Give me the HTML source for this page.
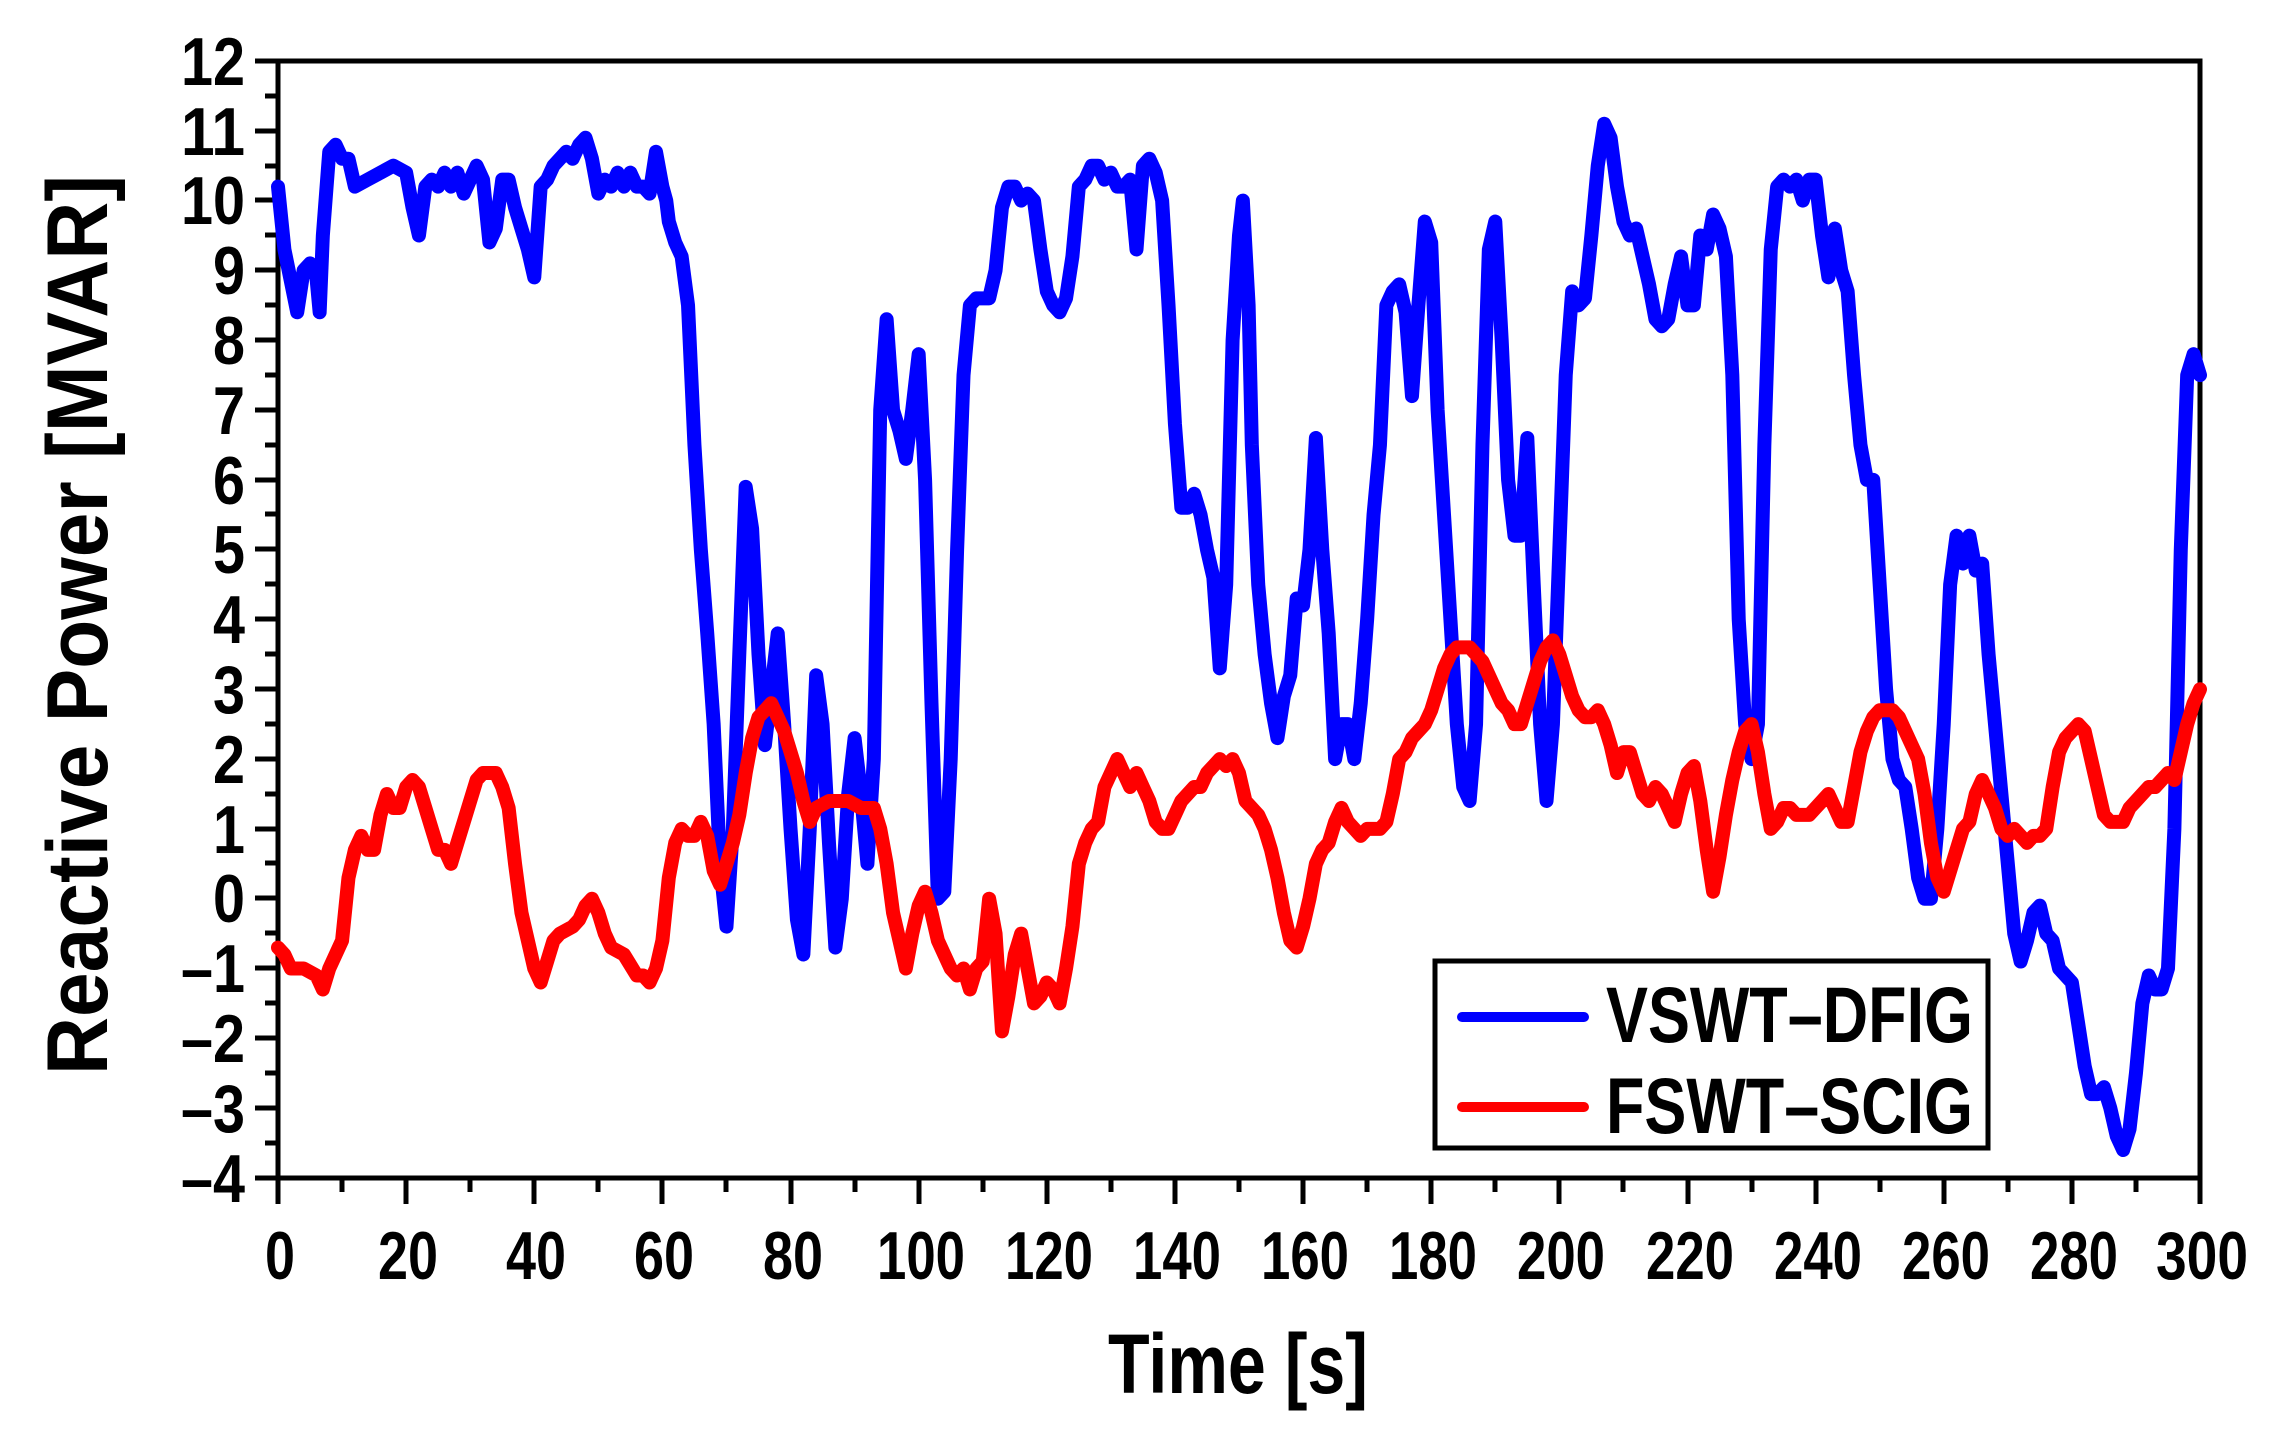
<!DOCTYPE html>
<html><head><meta charset="utf-8"><style>
html,body{margin:0;padding:0;background:#fff;}
svg{display:block;}
text{font-family:"Liberation Sans",Arial,sans-serif;font-weight:bold;fill:#000;}
</style></head><body>
<svg width="2270" height="1437" viewBox="0 0 2270 1437" xmlns="http://www.w3.org/2000/svg">
<rect width="2270" height="1437" fill="#fff"/>
<g stroke="#000" stroke-width="5" fill="none">
<rect x="278" y="61" width="1922" height="1117"/>
<path d="M255 61H278M255 131H278M255 200H278M255 270H278M255 340H278M255 410H278M255 480H278M255 549H278M255 619H278M255 689H278M255 759H278M255 829H278M255 898H278M255 968H278M255 1038H278M255 1108H278M255 1178H278"/>
<path d="M265 96H278M265 166H278M265 235H278M265 305H278M265 375H278M265 445H278M265 514H278M265 584H278M265 654H278M265 724H278M265 794H278M265 863H278M265 933H278M265 1003H278M265 1073H278M265 1143H278"/>
<path d="M278 1178V1204M406 1178V1204M534 1178V1204M662 1178V1204M791 1178V1204M919 1178V1204M1047 1178V1204M1175 1178V1204M1303 1178V1204M1431 1178V1204M1559 1178V1204M1688 1178V1204M1816 1178V1204M1944 1178V1204M2072 1178V1204M2200 1178V1204"/>
<path d="M342 1178V1192M470 1178V1192M598 1178V1192M726 1178V1192M855 1178V1192M983 1178V1192M1111 1178V1192M1239 1178V1192M1367 1178V1192M1495 1178V1192M1623 1178V1192M1752 1178V1192M1880 1178V1192M2008 1178V1192M2136 1178V1192"/>
</g>
<g font-size="68" text-anchor="end">
<text x="245" y="85" textLength="64" lengthAdjust="spacingAndGlyphs">12</text>
<text x="245" y="155" textLength="64" lengthAdjust="spacingAndGlyphs">11</text>
<text x="245" y="224" textLength="64" lengthAdjust="spacingAndGlyphs">10</text>
<text x="245" y="294" textLength="32" lengthAdjust="spacingAndGlyphs">9</text>
<text x="245" y="364" textLength="32" lengthAdjust="spacingAndGlyphs">8</text>
<text x="245" y="434" textLength="32" lengthAdjust="spacingAndGlyphs">7</text>
<text x="245" y="504" textLength="32" lengthAdjust="spacingAndGlyphs">6</text>
<text x="245" y="573" textLength="32" lengthAdjust="spacingAndGlyphs">5</text>
<text x="245" y="643" textLength="32" lengthAdjust="spacingAndGlyphs">4</text>
<text x="245" y="713" textLength="32" lengthAdjust="spacingAndGlyphs">3</text>
<text x="245" y="783" textLength="32" lengthAdjust="spacingAndGlyphs">2</text>
<text x="245" y="853" textLength="32" lengthAdjust="spacingAndGlyphs">1</text>
<text x="245" y="922" textLength="32" lengthAdjust="spacingAndGlyphs">0</text>
<text x="245" y="992" textLength="64" lengthAdjust="spacingAndGlyphs">–1</text>
<text x="245" y="1062" textLength="64" lengthAdjust="spacingAndGlyphs">–2</text>
<text x="245" y="1132" textLength="64" lengthAdjust="spacingAndGlyphs">–3</text>
<text x="245" y="1202" textLength="64" lengthAdjust="spacingAndGlyphs">–4</text>
</g>
<g font-size="68" text-anchor="middle">
<text x="280" y="1279" textLength="30" lengthAdjust="spacingAndGlyphs">0</text>
<text x="408" y="1279" textLength="60" lengthAdjust="spacingAndGlyphs">20</text>
<text x="536" y="1279" textLength="60" lengthAdjust="spacingAndGlyphs">40</text>
<text x="664" y="1279" textLength="60" lengthAdjust="spacingAndGlyphs">60</text>
<text x="793" y="1279" textLength="60" lengthAdjust="spacingAndGlyphs">80</text>
<text x="921" y="1279" textLength="88" lengthAdjust="spacingAndGlyphs">100</text>
<text x="1049" y="1279" textLength="88" lengthAdjust="spacingAndGlyphs">120</text>
<text x="1177" y="1279" textLength="88" lengthAdjust="spacingAndGlyphs">140</text>
<text x="1305" y="1279" textLength="88" lengthAdjust="spacingAndGlyphs">160</text>
<text x="1433" y="1279" textLength="88" lengthAdjust="spacingAndGlyphs">180</text>
<text x="1561" y="1279" textLength="88" lengthAdjust="spacingAndGlyphs">200</text>
<text x="1690" y="1279" textLength="88" lengthAdjust="spacingAndGlyphs">220</text>
<text x="1818" y="1279" textLength="88" lengthAdjust="spacingAndGlyphs">240</text>
<text x="1946" y="1279" textLength="88" lengthAdjust="spacingAndGlyphs">260</text>
<text x="2074" y="1279" textLength="88" lengthAdjust="spacingAndGlyphs">280</text>
<text x="2202" y="1279" textLength="92" lengthAdjust="spacingAndGlyphs">300</text>
</g>
<text x="1108" y="1393" font-size="84" textLength="260" lengthAdjust="spacingAndGlyphs">Time [s]</text>
<text transform="translate(107,1075) rotate(-90)" font-size="86" textLength="900" lengthAdjust="spacingAndGlyphs">Reactive Power [MVAR]</text>
<g fill="none" stroke-linejoin="round" stroke-linecap="round">
<g transform="matrix(6.4067 0 0 -69.81 278 898.7)">
<polyline vector-effect="non-scaling-stroke" stroke-width="14" stroke="#0000ff" points="0,10.2 1,9.3 3,8.4 4,9.0 5,9.1 6,8.9 6.5,8.4 7,9.5 8,10.7 9,10.8 10,10.6 11,10.6 12,10.2 14,10.3 16,10.4 18,10.5 20,10.4 21,9.9 22,9.5 23,10.2 24,10.3 25,10.2 26,10.4 27,10.2 28,10.4 29,10.1 30,10.3 31,10.5 32,10.3 33,9.4 34,9.6 35,10.3 36,10.3 37,9.9 38,9.6 39,9.3 40,8.9 41,10.2 42,10.3 43,10.5 44,10.6 45,10.7 46,10.6 47,10.8 48,10.9 49,10.6 50,10.1 51,10.3 52,10.2 53,10.4 54,10.2 55,10.4 56,10.2 57,10.2 58,10.1 59,10.7 60,10.2 60.6,10.0 61,9.7 62,9.4 63,9.2 64,8.5 65,6.5 66,5.0 67,3.8 68,2.5 69,0.5 70,-0.4 71,1.0 72,3.5 73,5.9 74,5.3 75,3.5 76,2.2 77,3.0 78,3.8 79,2.5 80,1.0 81,-0.3 82,-0.8 83,1.0 84,3.2 85,2.5 86,0.8 87,-0.7 88,0.0 89,1.5 90,2.3 91,1.5 92,0.5 93,2.0 94,7.0 95,8.3 96,7.0 97,6.7 98,6.3 99,7.0 100,7.8 101,6.0 102,2.8 103,0.0 104,0.1 105,2.0 106,5.0 107,7.5 108,8.5 109,8.6 111,8.6 112,9.0 113,9.9 114,10.2 115,10.2 116,10.0 117,10.1 118,10.0 119,9.3 120,8.7 121,8.5 122,8.4 123,8.6 124,9.2 125,10.2 126,10.3 127,10.5 128,10.5 129,10.3 130,10.4 131,10.2 132,10.2 133,10.3 134,9.3 135,10.5 136,10.6 137,10.4 138,10.0 139,8.5 140,6.8 141,5.6 142,5.6 143,5.8 144,5.5 145,5.0 146,4.6 147,3.3 148,4.5 149,8.0 150,9.5 150.6,10.0 151.5,8.5 152,6.5 153,4.5 154,3.5 155,2.8 156,2.3 157,2.9 158,3.2 159,4.3 160,4.2 161,5.0 162,6.6 163,5.0 164,3.8 165,2.0 166,2.5 167,2.5 168,2.0 169,2.8 170,4.0 171,5.5 172,6.5 173,8.5 174,8.7 175,8.8 176,8.4 177,7.2 178,8.5 179,9.7 180,9.4 181,7.0 182,5.5 183,4.0 184,2.5 185,1.6 186,1.4 187,2.5 188,6.5 189,9.3 190,9.7 191,8.0 192,6.0 193,5.2 194,5.2 195,6.6 196,4.5 197,2.5 198,1.4 199,2.5 200,5.0 201,7.5 202,8.7 203,8.5 204,8.6 205,9.5 206,10.5 207,11.1 208,10.9 209,10.2 210,9.7 211,9.5 212,9.6 213,9.2 214,8.8 215,8.3 216,8.2 217,8.3 218,8.8 219,9.2 220,8.5 221,8.5 222,9.5 223,9.3 224,9.8 225,9.6 226,9.2 227,7.5 228,4.0 229,2.5 230,2.0 231,2.5 232,6.5 233,9.3 234,10.2 235,10.3 236,10.2 237,10.3 238,10.0 239,10.3 240,10.3 241,9.5 242,8.9 243,9.6 244,9.0 245,8.7 246,7.5 247,6.5 248,6.0 249,6.0 250,4.5 251,3.0 252,2.0 253,1.7 254,1.6 255,1.0 256,0.3 257,0.0 258,0.0 259,1.0 260,2.5 261,4.5 262,5.2 263,4.8 264,5.2 265,4.7 266,4.8 267,3.5 268,2.5 269,1.5 270,0.5 271,-0.5 272,-0.9 273,-0.6 274,-0.2 275,-0.1 276,-0.5 277,-0.6 278,-1.0 279,-1.1 280,-1.2 281,-1.8 282,-2.4 283,-2.8 284,-2.8 285,-2.7 286,-3.0 287,-3.4 288,-3.6 289,-3.3 290,-2.5 291,-1.5 292,-1.1 293,-1.3 294,-1.3 295,-1.0 296,1.0 297,5.0 298,7.5 299,7.8 300,7.5"/>
<polyline vector-effect="non-scaling-stroke" stroke-width="14" stroke="#ff0000" points="0,-0.7 1,-0.8 2,-1.0 4,-1.0 6,-1.1 7,-1.3 8,-1.0 10,-0.6 11,0.3 12,0.7 13,0.9 14,0.7 15,0.7 16,1.2 17,1.5 18,1.3 19,1.3 20,1.6 21,1.7 22,1.6 23,1.3 24,1.0 25,0.7 26,0.7 27,0.5 28,0.8 29,1.1 30,1.4 31,1.7 32,1.8 34,1.8 35,1.6 36,1.3 37,0.5 38,-0.2 39,-0.6 40,-1.0 41,-1.2 42,-0.9 43,-0.6 44,-0.5 46,-0.4 47,-0.3 48,-0.1 49,0.0 50,-0.2 51,-0.5 52,-0.7 54,-0.8 56,-1.1 57,-1.1 58,-1.2 59,-1.0 60,-0.6 61,0.3 62,0.8 63,1.0 64,0.9 65,0.9 66,1.1 67,0.9 68,0.4 69,0.2 70,0.5 71,0.8 72,1.2 73,1.8 74,2.3 75,2.6 76,2.7 77,2.8 78,2.6 79,2.4 80,2.1 81,1.8 82,1.4 83,1.1 84,1.3 86,1.4 89,1.4 91,1.3 93,1.3 94,1.0 95,0.5 96,-0.2 97,-0.6 98,-1.0 99,-0.5 100,-0.1 101,0.1 102,-0.2 103,-0.6 104,-0.8 105,-1.0 106,-1.1 107,-1.0 108,-1.3 109,-1.0 110,-0.9 111,0.0 112,-0.5 113,-1.9 114,-1.4 115,-0.8 116,-0.5 117,-1.0 118,-1.5 119,-1.4 120,-1.2 121,-1.3 122,-1.5 123,-1.0 124,-0.4 125,0.5 126,0.8 127,1.0 128,1.1 129,1.6 130,1.8 131,2.0 132,1.8 133,1.6 134,1.8 135,1.6 136,1.4 137,1.1 138,1.0 139,1.0 140,1.2 141,1.4 142,1.5 143,1.6 144,1.6 145,1.8 146,1.9 147,2.0 148,1.9 149,2.0 150,1.8 151,1.4 152,1.3 153,1.2 154,1.0 155,0.7 156,0.3 157,-0.2 158,-0.6 159,-0.7 160,-0.4 161,0.0 162,0.5 163,0.7 164,0.8 165,1.1 166,1.3 167,1.1 168,1.0 169,0.9 170,1.0 172,1.0 173,1.1 174,1.5 175,2.0 176,2.1 177,2.3 178,2.4 179,2.5 180,2.7 181,3.0 182,3.3 183,3.5 184,3.6 186,3.6 187,3.5 188,3.4 189,3.2 190,3.0 191,2.8 192,2.7 193,2.5 194,2.5 195,2.8 196,3.1 197,3.4 198,3.6 199,3.7 200,3.5 201,3.2 202,2.9 203,2.7 204,2.6 205,2.6 206,2.7 207,2.5 208,2.2 209,1.8 210,2.1 211,2.1 212,1.8 213,1.5 214,1.4 215,1.6 216,1.5 217,1.3 218,1.1 219,1.5 220,1.8 221,1.9 222,1.4 223,0.7 224,0.1 225,0.6 226,1.2 227,1.7 228,2.1 229,2.4 230,2.5 231,2.1 232,1.5 233,1.0 234,1.1 235,1.3 236,1.3 237,1.2 238,1.2 239,1.2 240,1.3 241,1.4 242,1.5 243,1.3 244,1.1 245,1.1 246,1.6 247,2.1 248,2.4 249,2.6 250,2.7 251,2.7 252,2.7 253,2.6 254,2.4 255,2.2 256,2.0 257,1.5 258,0.8 259,0.3 260,0.1 261,0.4 262,0.7 263,1.0 264,1.1 265,1.5 266,1.7 267,1.5 268,1.3 269,1.0 270,0.9 271,1.0 272,0.9 273,0.8 274,0.9 275,0.9 276,1.0 277,1.6 278,2.1 279,2.3 280,2.4 281,2.5 282,2.4 283,2.0 284,1.6 285,1.2 286,1.1 287,1.1 288,1.1 289,1.3 290,1.4 291,1.5 292,1.6 293,1.6 294,1.7 295,1.8 296,1.7 297,2.1 298,2.5 299,2.8 300,3.0"/>
</g>
</g>
<rect x="1435" y="961" width="553" height="187" fill="#fff" stroke="#000" stroke-width="5"/>
<line x1="1462" y1="1017" x2="1584" y2="1017" stroke="#0000ff" stroke-width="10" stroke-linecap="round"/>
<line x1="1462" y1="1107" x2="1584" y2="1107" stroke="#ff0000" stroke-width="10" stroke-linecap="round"/>
<text x="1606" y="1042" font-size="79" textLength="367" lengthAdjust="spacingAndGlyphs">VSWT–DFIG</text>
<text x="1606" y="1133" font-size="79" textLength="367" lengthAdjust="spacingAndGlyphs">FSWT–SCIG</text>
</svg>
</body></html>
